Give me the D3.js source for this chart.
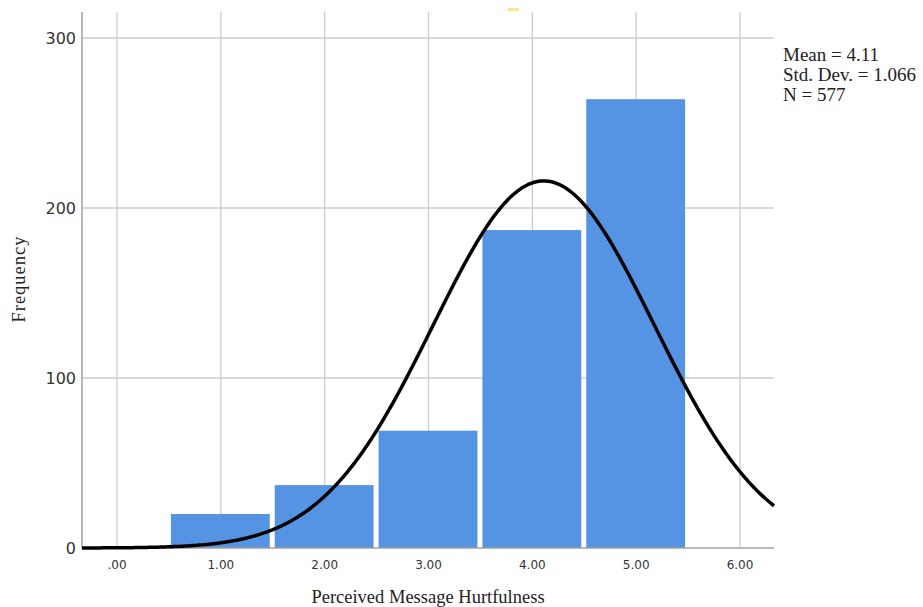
<!DOCTYPE html>
<html>
<head>
<meta charset="utf-8">
<script src="https://cdn.jsdelivr.net/npm/d3@7"></script>
<style>
  body { margin: 0; background: #fff; }
  .ylab { font-family: "DejaVu Sans", sans-serif; font-size: 16px; fill: #333; }
  .xlab { font-family: "DejaVu Sans", sans-serif; font-size: 12px; fill: #333; }
  .serif { font-family: "Liberation Serif", "Times New Roman", serif; font-size: 18.5px; fill: #222; }
  .stat { font-family: "Liberation Serif", "Times New Roman", serif; font-size: 19px; fill: #222; }
</style>
</head>
<body>
<div id="chart"></div>
<script>
// histogram data
var binCenters = [1, 2, 3, 4, 5];
var counts = [20, 37, 69, 187, 264];
var xTicks = [0, 1, 2, 3, 4, 5, 6];
var xTickLabels = [".00", "1.00", "2.00", "3.00", "4.00", "5.00", "6.00"];
var yTicks = [0, 100, 200, 300];
var stats = ["Mean = 4.11", "Std. Dev. = 1.066", "N = 577"];
var mean = 4.11, sd = 1.066, n = 577;

var fullwidth = 923, fullheight = 607;
var plot = {left: 82, right: 774, top: 12, bottom: 548};

var svg = d3.select("#chart").append("svg")
    .attr("width", fullwidth)
    .attr("height", fullheight);

var xScale = d3.scaleLinear()
    .domain([0, 6])
    .range([117, 740]);
var xMin = xScale.invert(plot.left), xMax = xScale.invert(plot.right);

var yScale = d3.scaleLinear()
    .domain([0, 300])
    .range([plot.bottom, 38]);

// grid
svg.selectAll("line.vgrid")
    .data(xTicks)
    .enter().append("line")
    .attr("x1", function(d) { return xScale(d); })
    .attr("x2", function(d) { return xScale(d); })
    .attr("y1", plot.top)
    .attr("y2", plot.bottom)
    .attr("stroke", "#cccccc")
    .attr("stroke-width", 1.3);

svg.selectAll("line.hgrid")
    .data(yTicks.slice(1))
    .enter().append("line")
    .attr("x1", plot.left)
    .attr("x2", plot.right)
    .attr("y1", function(d) { return yScale(d); })
    .attr("y2", function(d) { return yScale(d); })
    .attr("stroke", "#cccccc")
    .attr("stroke-width", 1.3);

// bars
var step = xScale(1) - xScale(0);
svg.selectAll("rect.bar")
    .data(binCenters)
    .enter().append("rect")
    .attr("class", "bar")
    .attr("x", function(d) { return xScale(d - 0.5) + 2; })
    .attr("width", step - 5)
    .attr("y", function(d, i) { return yScale(counts[i]); })
    .attr("height", function(d, i) { return plot.bottom - yScale(counts[i]); })
    .attr("fill", "#5494e3");

// axes lines
svg.append("line")
    .attr("x1", plot.left).attr("x2", plot.left)
    .attr("y1", plot.top).attr("y2", plot.bottom)
    .attr("stroke", "#a0a0a0").attr("stroke-width", 1.5);
svg.append("line")
    .attr("x1", plot.left).attr("x2", plot.right)
    .attr("y1", plot.bottom).attr("y2", plot.bottom)
    .attr("stroke", "#a0a0a0").attr("stroke-width", 1.5);

// normal curve
var curvePts = d3.range(0, 301).map(function(i) {
    var x = xMin + (xMax - xMin) * i / 300;
    var z = (x - mean) / sd;
    return [x, n / (sd * Math.sqrt(2 * Math.PI)) * Math.exp(-0.5 * z * z)];
});
svg.append("path")
    .datum(curvePts)
    .attr("fill", "none")
    .attr("stroke", "#000")
    .attr("stroke-width", 3.5)
    .attr("d", d3.line()
        .x(function(d) { return xScale(d[0]); })
        .y(function(d) { return yScale(d[1]); }));

// tick labels
svg.selectAll("text.ylab")
    .data(yTicks)
    .enter().append("text")
    .attr("class", "ylab")
    .attr("x", 76)
    .attr("y", function(d) { return yScale(d); })
    .attr("dy", "0.35em")
    .attr("text-anchor", "end")
    .text(function(d) { return d; });

svg.selectAll("text.xlab")
    .data(xTicks)
    .enter().append("text")
    .attr("class", "xlab")
    .attr("x", function(d) { return xScale(d); })
    .attr("y", 569)
    .attr("text-anchor", "middle")
    .text(function(d, i) { return xTickLabels[i]; });

// titles
svg.append("text")
    .attr("class", "serif")
    .attr("x", 428)
    .attr("y", 603)
    .attr("text-anchor", "middle")
    .text("Perceived Message Hurtfulness");

svg.append("text")
    .attr("class", "serif")
    .attr("transform", "translate(25,279) rotate(-90)")
    .attr("text-anchor", "middle")
    .attr("letter-spacing", "1px")
    .text("Frequency");

svg.selectAll("text.stat")
    .data(stats)
    .enter().append("text")
    .attr("class", "stat")
    .attr("x", 783)
    .attr("y", function(d, i) { return 61 + i * 20; })
    .text(function(d) { return d; });

// small yellow mark at top
svg.append("rect")
    .attr("x", 508).attr("y", 8)
    .attr("width", 11).attr("height", 3)
    .attr("fill", "#fde58a");
</script>
</body>
</html>
